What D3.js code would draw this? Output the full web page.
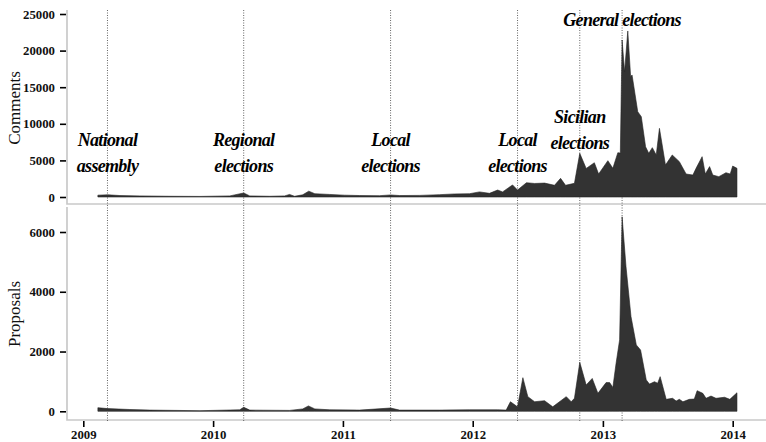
<!DOCTYPE html>
<html>
<head>
<meta charset="utf-8">
<script src="https://d3js.org/d3.v7.min.js"></script>
<style>
body { margin: 0; background: #fff; }
svg { display: block; font-family: "Liberation Serif", serif; }
</style>
</head>
<body>
<div id="chart"></div>
<script>
var commentDates = ["2009-02-11","2009-03-11","2009-04-14","2009-06-09","2009-09-02","2009-11-25","2010-02-17","2010-03-28","2010-04-14","2010-06-09","2010-07-21","2010-08-04","2010-08-18","2010-09-10","2010-09-27","2010-10-14","2010-11-25","2011-01-05","2011-02-17","2011-04-14","2011-05-15","2011-06-09","2011-08-05","2011-09-30","2011-11-11","2011-12-23","2012-01-20","2012-02-17","2012-03-11","2012-03-25","2012-04-22","2012-05-06","2012-05-31","2012-06-23","2012-07-21","2012-08-18","2012-09-04","2012-09-18","2012-10-13","2012-10-28","2012-11-15","2012-12-08","2012-12-20","2013-01-15","2013-01-29","2013-02-12","2013-02-19","2013-02-24","2013-03-03","2013-03-12","2013-03-20","2013-03-24","2013-04-09","2013-04-19","2013-05-01","2013-05-10","2013-05-20","2013-05-31","2013-06-09","2013-06-26","2013-07-15","2013-08-04","2013-08-23","2013-09-11","2013-09-20","2013-10-07","2013-10-16","2013-10-28","2013-11-06","2013-11-23","2013-12-13","2013-12-25","2014-01-01","2014-01-13"];
var commentValues = [250,300,200,150,100,80,150,550,150,100,150,350,100,300,800,450,350,250,200,180,280,200,220,320,420,450,700,500,950,700,1650,950,1950,1850,1900,1600,2550,1600,1870,5960,3900,4680,3140,4960,3920,6050,6000,21450,17110,22680,16430,16670,11650,10970,6870,5960,6740,5740,9380,4370,5740,4830,3140,3000,3920,5510,3140,4150,3000,2780,3320,3140,4230,3920];

var proposalDates = ["2009-02-11","2009-03-11","2009-05-12","2009-07-07","2009-11-25","2010-03-17","2010-03-28","2010-04-14","2010-08-04","2010-09-10","2010-09-26","2010-10-14","2010-11-25","2011-02-17","2011-05-15","2011-06-09","2011-09-30","2011-12-23","2012-03-11","2012-04-04","2012-04-16","2012-05-06","2012-05-21","2012-06-04","2012-06-23","2012-07-21","2012-08-13","2012-09-20","2012-10-04","2012-10-13","2012-10-28","2012-11-15","2012-12-02","2012-12-18","2013-01-10","2013-01-20","2013-01-29","2013-02-07","2013-02-17","2013-02-24","2013-03-07","2013-03-21","2013-04-05","2013-04-17","2013-05-03","2013-05-12","2013-05-26","2013-06-04","2013-06-11","2013-06-28","2013-07-16","2013-07-26","2013-08-04","2013-08-14","2013-09-01","2013-09-15","2013-09-23","2013-10-09","2013-10-18","2013-11-01","2013-11-15","2013-12-09","2013-12-24","2014-01-13"];
var proposalValues = [120,90,60,40,20,50,135,40,30,80,180,80,50,40,110,40,40,50,50,40,320,150,1125,490,320,355,150,490,320,435,1640,880,1100,600,960,960,800,1600,2390,6510,4840,3170,2220,2050,1050,910,990,940,1160,400,435,345,400,320,400,410,690,600,435,510,435,470,400,620];

var eventDates = ["2009-03-10","2010-03-28","2011-05-15","2012-05-06","2012-10-28","2013-02-24"];
var eventLabels = [["National","assembly"],["Regional","elections"],["Local","elections"],["Local","elections"],["Sicilian","elections"],["General elections"]];

var commentTicks = [0,5000,10000,15000,20000,25000];
var proposalTicks = [0,2000,4000,6000];
var yearTicks = ["2009","2010","2011","2012","2013","2014"];

var parse = d3.timeParse("%Y-%m-%d");
var comments = commentDates.map(function(d,i){ return {date: parse(d), value: commentValues[i]}; });
var proposals = proposalDates.map(function(d,i){ return {date: parse(d), value: proposalValues[i]}; });

var W = 766, H = 442;
var svg = d3.select('#chart').append('svg').attr('width', W).attr('height', H);

var x = d3.scaleTime()
	.domain([parse("2009-01-01"), parse("2014-01-01")])
	.range([83.3, 732.7]);
var yTop = d3.scaleLinear().domain([0,25000]).range([197,14]);
var yBot = d3.scaleLinear().domain([0,6000]).range([411.3,232]);

// panel frames
var grey = "#c9c9c9";
svg.append('path').attr('d', 'M67,10V204H766').attr('fill','none').attr('stroke',grey).attr('stroke-width',1.7);
svg.append('path').attr('d', 'M67,207V420H766').attr('fill','none').attr('stroke',grey).attr('stroke-width',1.7);

// event lines
svg.selectAll('.event').data(eventDates).enter().append('line')
	.attr('class','event')
	.attr('x1', function(d){ return x(parse(d)); })
	.attr('x2', function(d){ return x(parse(d)); })
	.attr('y1', 10).attr('y2', 422)
	.attr('stroke', '#555').attr('stroke-width', 0.9).attr('stroke-dasharray', '1,1.5');

var areaTop = d3.area().x(function(d){ return x(d.date); }).y0(yTop(0)).y1(function(d){ return yTop(d.value); });
var areaBot = d3.area().x(function(d){ return x(d.date); }).y0(yBot(0)).y1(function(d){ return yBot(d.value); });

svg.append('path').datum(comments).attr('d', areaTop).attr('fill','#333').attr('stroke','#222').attr('stroke-width',0.6);
svg.append('path').datum(proposals).attr('d', areaBot).attr('fill','#333').attr('stroke','#222').attr('stroke-width',0.6);

// axes
function styleAxis(g){
	g.select('.domain').remove();
	g.selectAll('.tick line').attr('stroke','#000').attr('stroke-width',1.6);
	g.selectAll('.tick text').attr('font-family','"Liberation Serif", serif')
		.attr('font-size',12.8).attr('font-weight','bold').attr('fill','#111');
}
svg.append('g').attr('transform','translate(66,0)')
	.call(d3.axisLeft(yTop).tickValues(commentTicks).tickSize(6).tickPadding(5).tickFormat(d3.format('d')))
	.call(styleAxis);
svg.append('g').attr('transform','translate(66,0)')
	.call(d3.axisLeft(yBot).tickValues(proposalTicks).tickSize(6).tickPadding(5).tickFormat(d3.format('d')))
	.call(styleAxis);
svg.append('g').attr('transform','translate(0,421)')
	.call(d3.axisBottom(x).tickValues(yearTicks.map(function(d){ return parse(d + "-01-01"); })).tickSize(6).tickPadding(3).tickFormat(d3.timeFormat('%Y')))
	.call(styleAxis);

// axis titles
svg.append('text').attr('transform','translate(20,108) rotate(-90)').attr('text-anchor','middle')
	.attr('font-size',17).attr('fill','#111').text('Comments');
svg.append('text').attr('transform','translate(20,314) rotate(-90)').attr('text-anchor','middle')
	.attr('font-size',17).attr('fill','#111').text('Proposals');

// event labels
var labelBase = [146,146,146,146,123,26];
eventLabels.forEach(function(lines, i){
	var t = svg.append('text')
		.attr('text-anchor','middle')
		.attr('font-size',18).attr('font-weight','bold').attr('font-style','italic')
		.attr('letter-spacing','-0.7px').attr('fill','#000');
	lines.forEach(function(s, j){
		t.append('tspan').attr('x', x(parse(eventDates[i]))).attr('y', labelBase[i] + j*25.5).text(s);
	});
});
</script>
</body>
</html>
